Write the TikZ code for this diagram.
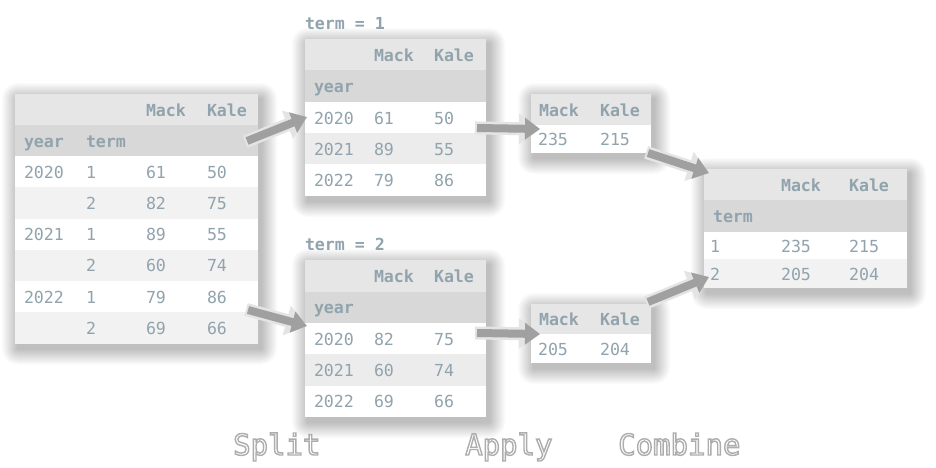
\documentclass[tikz,border=0pt]{standalone}
\usepackage{fontspec}
\setmonofont{DejaVu Sans Mono}
\usetikzlibrary{arrows.meta}
\definecolor{txt}{RGB}{145,163,173}
\definecolor{hdA}{RGB}{230,230,230}
\definecolor{hdB}{RGB}{216,216,216}
\definecolor{altL}{RGB}{242,242,242}
\definecolor{altM}{RGB}{236,236,236}
\definecolor{arrowfill}{RGB}{160,160,160}
\definecolor{arrowedge}{RGB}{228,228,228}
\newcommand\outlinetxt[1]{\special{pdf:literal direct 2 Tr 1.4 w 0.68 0.68 0.68 RG}#1\special{pdf:literal direct 0 Tr 0.4 w}}
\newcommand\tblshadow[4]{%
  \foreach \r in {1,...,16}{%
    \fill[black, opacity=0.015, rounded corners=\r pt] ({#1-\r+3},{#2-\r+5}) rectangle ({#3+\r+3},{#4+\r+5});}}
\tikzset{
  tbl/.style={draw=none, fill=white, inner sep=0, outer sep=0, anchor=north west},
  cell/.style={inner sep=0, outer sep=0, anchor=base west, text=txt, font=\ttfamily\fontsize{16.6}{18}\selectfont},
  hcell/.style={cell, font=\ttfamily\bfseries\fontsize{16.6}{18}\selectfont},
  steplabel/.style={inner sep=0, anchor=base west, text=white, font=\ttfamily\fontsize{29}{32}\selectfont},
  blockarrow/.style={line width=8pt, draw=arrowfill, -{Triangle[width=21pt,length=15pt]},
    preaction={draw=arrowedge, line width=13pt, -{Triangle[width=29pt,length=21pt]}, shorten <=-2pt}}
}
\begin{document}
\begin{tikzpicture}[x=1pt,y=-1pt]
\useasboundingbox (0,0) rectangle (936,467);
\fill[white] (0,0) rectangle (936,467);

% ---------- shadows ----------
\tblshadow{15}{94}{258}{343.5}
\tblshadow{305}{39}{486}{196}
\tblshadow{305}{260}{486}{417}
\tblshadow{531}{94}{651}{153}
\tblshadow{531}{304}{651}{363}
\tblshadow{704}{169}{907}{288}

% ---------- left table ----------
\node[tbl, minimum width=243pt, minimum height=249.5pt] (L) at (15,94) {};
\fill[hdA] (15,94) rectangle (258,125);
\fill[hdB] (15,125) rectangle (258,156);
\foreach \k in {1,3,5} \fill[altL] (15,156+31.25*\k) rectangle (258,156+31.25*\k+31.25);
\node[hcell] (L-mack) at (146,116) {Mack};
\node[hcell] (L-kale) at (207,116) {Kale};
\node[hcell] (L-year) at (24,147) {year};
\node[hcell] (L-term) at (86,147) {term};
\foreach \t/\a/\b [count=\i from 0] in {1/61/50, 2/82/75, 1/89/55, 2/60/74, 1/79/86, 2/69/66}{
  \node[cell] (L-r\i-t) at (86,178+31.25*\i) {\t};
  \node[cell] (L-r\i-m) at (146,178+31.25*\i) {\a};
  \node[cell] (L-r\i-k) at (207,178+31.25*\i) {\b};
}
\node[cell] (L-y0) at (24,178) {2020};
\node[cell] (L-y1) at (24,240.5) {2021};
\node[cell] (L-y2) at (24,303) {2022};

% ---------- term = 1 ----------
\node[hcell] (T1-title) at (305,29) {term = 1};
\node[tbl, minimum width=181pt, minimum height=157pt] (T1) at (305,39) {};
\fill[hdA] (305,39) rectangle (486,70);
\fill[hdB] (305,70) rectangle (486,102);
\fill[altM] (305,133) rectangle (486,164);
\node[hcell] (T1-mack) at (374,61) {Mack};
\node[hcell] (T1-kale) at (434,61) {Kale};
\node[hcell] (T1-year) at (314,92.5) {year};
\foreach \y/\a/\b [count=\i from 0] in {2020/61/50, 2021/89/55, 2022/79/86}{
  \node[cell] (T1-r\i-y) at (314,124+31.3*\i) {\y};
  \node[cell] (T1-r\i-m) at (374,124+31.3*\i) {\a};
  \node[cell] (T1-r\i-k) at (434,124+31.3*\i) {\b};
}

% ---------- term = 2 ----------
\node[hcell] (T2-title) at (305,250) {term = 2};
\node[tbl, minimum width=181pt, minimum height=157pt] (T2) at (305,260) {};
\fill[hdA] (305,260) rectangle (486,292);
\fill[hdB] (305,292) rectangle (486,323);
\fill[altM] (305,354) rectangle (486,386);
\node[hcell] (T2-mack) at (374,282) {Mack};
\node[hcell] (T2-kale) at (434,282) {Kale};
\node[hcell] (T2-year) at (314,313.5) {year};
\foreach \y/\a/\b [count=\i from 0] in {2020/82/75, 2021/60/74, 2022/69/66}{
  \node[cell] (T2-r\i-y) at (314,345+31.3*\i) {\y};
  \node[cell] (T2-r\i-m) at (374,345+31.3*\i) {\a};
  \node[cell] (T2-r\i-k) at (434,345+31.3*\i) {\b};
}

% ---------- small results ----------
\node[tbl, minimum width=120pt, minimum height=59pt] (S1) at (531,94) {};
\fill[hdA] (531,94) rectangle (651,125);
\node[hcell] (S1-mack) at (539,116) {Mack};
\node[hcell] (S1-kale) at (600,116) {Kale};
\node[cell] (S1-m) at (538,145) {235};
\node[cell] (S1-k) at (600,145) {215};

\node[tbl, minimum width=120pt, minimum height=59pt] (S2) at (531,304) {};
\fill[hdA] (531,304) rectangle (651,334);
\node[hcell] (S2-mack) at (539,325.5) {Mack};
\node[hcell] (S2-kale) at (600,325.5) {Kale};
\node[cell] (S2-m) at (538,355) {205};
\node[cell] (S2-k) at (600,355) {204};

% ---------- combined ----------
\node[tbl, minimum width=203pt, minimum height=119pt] (R) at (704,169) {};
\fill[hdA] (704,169) rectangle (907,200);
\fill[hdB] (704,200) rectangle (907,232);
\fill[altL] (704,259) rectangle (907,288);
\node[hcell] (R-mack) at (781,191) {Mack};
\node[hcell] (R-kale) at (849,191) {Kale};
\node[hcell] (R-term) at (713,222) {term};
\node[cell] (R-r0-t) at (710,252) {1};
\node[cell] (R-r0-m) at (781,252) {235};
\node[cell] (R-r0-k) at (849,252) {215};
\node[cell] (R-r1-t) at (710,280) {2};
\node[cell] (R-r1-m) at (781,280) {205};
\node[cell] (R-r1-k) at (849,280) {204};

% ---------- arrows ----------
\coordinate (a1s) at (247,141); \coordinate (a1e) at (307,117);
\coordinate (a2s) at (248,310); \coordinate (a2e) at (307,326);
\coordinate (a3s) at (477,128); \coordinate (a3e) at (540,129);
\coordinate (a4s) at (477,333); \coordinate (a4e) at (540,334);
\coordinate (a5s) at (648,153); \coordinate (a5e) at (709,173);
\coordinate (a6s) at (648,302); \coordinate (a6e) at (709,277);
\foreach \n in {1,...,6} \draw[blockarrow] (a\n s) -- (a\n e);

% ---------- labels ----------
\node[steplabel] (lab-split) at (233,455) {\outlinetxt{Split}};
\node[steplabel] (lab-apply) at (465,455) {\outlinetxt{Apply}};
\node[steplabel] (lab-combine) at (618,455) {\outlinetxt{Combine}};
\end{tikzpicture}
\end{document}
